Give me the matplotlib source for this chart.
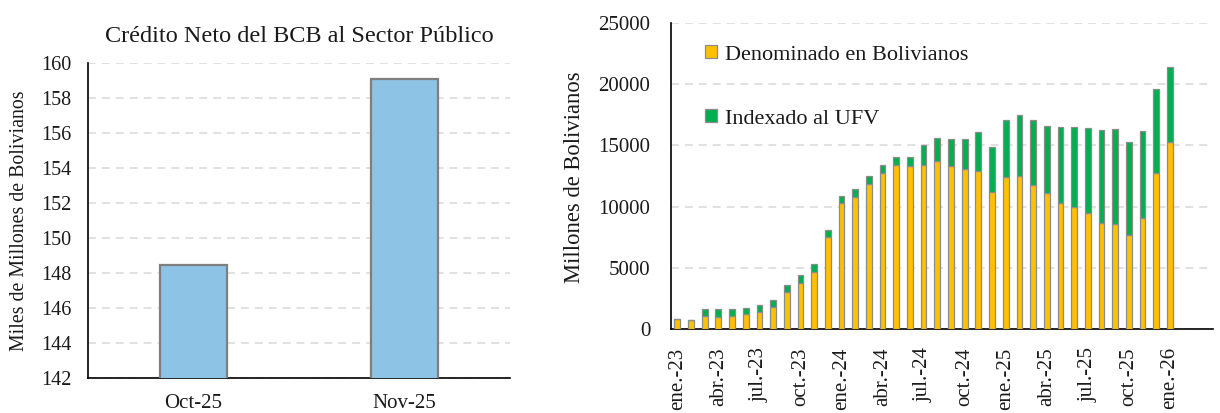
import matplotlib
matplotlib.use("Agg")
import matplotlib.pyplot as plt
from matplotlib.patches import Patch
import numpy as np

plt.rcParams['font.family'] = ['Liberation Serif', 'DejaVu Serif']

# Left chart data
left_categories = ["Oct-25", "Nov-25"]
left_values = [148.46, 159.07]

# Right chart data
months = ["ene.-23", "feb.-23", "mar.-23", "abr.-23", "may.-23", "jun.-23",
          "jul.-23", "ago.-23", "sep.-23", "oct.-23", "nov.-23", "dic.-23",
          "ene.-24", "feb.-24", "mar.-24", "abr.-24", "may.-24", "jun.-24",
          "jul.-24", "ago.-24", "sep.-24", "oct.-24", "nov.-24", "dic.-24",
          "ene.-25", "feb.-25", "mar.-25", "abr.-25", "may.-25", "jun.-25",
          "jul.-25", "ago.-25", "sep.-25", "oct.-25", "nov.-25", "dic.-25",
          "ene.-26"]
bolivianos = [800, 730, 1114, 1032, 1114, 1223, 1440, 1793, 3043, 3804, 4673, 7499,
              10270, 10814, 11873, 12716, 13368, 13341, 13368, 13748, 13341, 13096,
              12879, 11167, 12444, 12526, 11737, 11085, 10325, 9944, 9455, 8640,
              8586, 7716, 9075, 12770, 15297]
ufv = [20, 5, 571, 598, 516, 489, 516, 571, 571, 598, 625, 598,
       571, 597, 598, 652, 706, 733, 1630, 1848, 2146, 2445,
       3179, 3668, 4592, 4944, 5299, 5516, 6167, 6548, 6983, 7635,
       7743, 7581, 7091, 6792, 6059]

fig = plt.figure(figsize=(12.2, 4.13), dpi=100)

grid_kw = dict(color='#D9D9D9', linewidth=1.1, dashes=(5.2, 3.9))

# ---------------- Left chart ----------------
ax1 = fig.add_axes([88/1220, 1-378.3/413, 422/1220, (378.3-62.7)/413])
x1 = np.arange(len(left_categories))
ax1.bar(x1, left_values, width=0.32, color='#8DC3E5', edgecolor='#7F7F7F',
        linewidth=1.6, zorder=3)
ax1.set_xlim(-0.5, 1.5)
ax1.set_ylim(142, 160)
ax1.set_yticks(np.arange(142, 161, 2))
ax1.set_xticks(x1)
ax1.set_xticklabels(left_categories)
ax1.yaxis.grid(True, **grid_kw)
ax1.set_axisbelow(True)
for s in ['top', 'right']:
    ax1.spines[s].set_visible(False)
for s in ['left', 'bottom']:
    ax1.spines[s].set_color('black')
    ax1.spines[s].set_linewidth(1.2)
ax1.tick_params(axis='y', length=0, labelsize=14.5, colors='#1a1a1a', pad=12)
ax1.tick_params(axis='x', length=0, labelsize=15, colors='#1a1a1a', pad=11)
ax1.set_title("Crédito Neto del BCB al Sector Público", fontsize=17.5,
              pad=15, color='#1a1a1a')
fig.text(20/1220, 1-221/413, "Miles de Millones de Bolivianos", rotation=90,
         ha='center', va='center', fontsize=14.3, color='#1a1a1a')

# ---------------- Right chart ----------------
ax2 = fig.add_axes([671/1220, 1-329.3/413, 542/1220, (329.3-22.7)/413])
x2 = np.arange(len(months))
ax2.bar(x2, bolivianos, width=0.42, color='#FFC000', edgecolor='#8C8C8C',
        linewidth=0.9, zorder=3, label='Denominado en Bolivianos')
ax2.bar(x2, ufv, width=0.42, bottom=bolivianos, color='#00B050',
        edgecolor='#8C8C8C', linewidth=0.9, zorder=3, label='Indexado al UFV')
ax2.set_xlim(-0.46, 39.15)
ax2.set_ylim(0, 25000)
ax2.set_yticks(np.arange(0, 25001, 5000))
ax2.set_xticks(x2[::3])
ax2.set_xticklabels(months[::3], rotation=90, va='top', ha='center')
ax2.yaxis.grid(True, **grid_kw)
ax2.set_axisbelow(True)
for s in ['top', 'right']:
    ax2.spines[s].set_visible(False)
for s in ['left', 'bottom']:
    ax2.spines[s].set_color('black')
    ax2.spines[s].set_linewidth(1.2)
ax2.tick_params(axis='both', length=0, labelsize=15, colors='#1a1a1a')
ax2.tick_params(axis='y', pad=15)
ax2.tick_params(axis='x', pad=13)
fig.text(575/1220, 1-177/413, "Millones de Bolivianos", rotation=90,
         ha='center', va='center', fontsize=16.3, color='#1a1a1a')

handles = [Patch(facecolor='#FFC000', edgecolor='#8C8C8C', linewidth=0.9),
           Patch(facecolor='#00B050', edgecolor='#8C8C8C', linewidth=0.9)]
ax2.legend(handles, ['Denominado en Bolivianos', 'Indexado al UFV'],
           loc='upper left', bbox_to_anchor=(0.062, 0.927), frameon=False,
           fontsize=16, labelspacing=2.0, handlelength=0.55, handleheight=0.55,
           handletextpad=0.35, borderaxespad=0, borderpad=0,
           labelcolor='#1a1a1a')

fig.savefig("out.png", dpi=100)
